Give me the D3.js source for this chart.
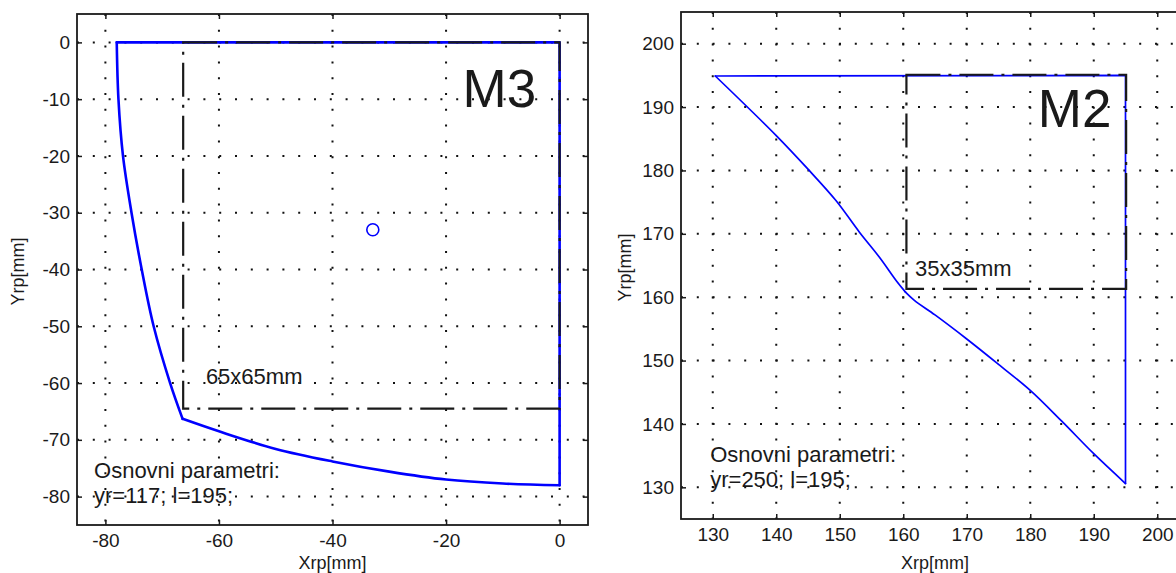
<!DOCTYPE html>
<html>
<head>
<meta charset="utf-8">
<script src="https://cdn.jsdelivr.net/npm/d3@7"></script>
<style>
  html, body { margin: 0; padding: 0; background: #fff; }
  svg { display: block; font-family: "Liberation Sans", Arial, sans-serif; }
</style>
</head>
<body>
<svg id="chart" width="1176" height="573"></svg>
<script>
// ---------- DATA ----------
// Panel M3 (left)
const m3Domain = [-85, 5];
const m3XTicks = [-80, -60, -40, -20, 0];
const m3YTicks = [0, -10, -20, -30, -40, -50, -60, -70, -80];
const m3Edges = [[-78.0, 0], [0, 0], [0, -78.0]];
const m3BottomCurve = [[0, -78.0], [-10, -77.7], [-20, -77.0], [-30, -75.6], [-40, -73.8],
  [-50, -71.6], [-60, -68.5], [-66.4, -66.3]];
const m3LeftCurve = [[-66.4, -66.3], [-68.6, -60], [-71.5, -50], [-73.6, -40], [-75.4, -30],
  [-76.9, -20], [-77.7, -10], [-78.0, 0]];
const m3Rect = [-66.3, -64.5, 0, 0];   // x0, y0, x1, y1
const m3Marker = [-32.9, -33.0];
const m3Texts = [
  { t: "M3", x: -17.1, y: -11.3, big: true },
  { t: "65x65mm", x: -62.3, y: -60.2 },
  { t: "Osnovni parametri:", x: -82.0, y: -76.7 },
  { t: "yr=117; l=195;", x: -82.0, y: -81.1 }
];

// Panel M2 (right)
const m2Domain = [125, 205];
const m2XTicks = [130, 140, 150, 160, 170, 180, 190, 200];
const m2YTicks = [130, 140, 150, 160, 170, 180, 190, 200];
const m2Edges = [[130.4, 194.9], [195, 195], [195, 130.6]];
const m2LowerCurve = [[195, 130.6], [190, 135.3], [185, 140.4], [180, 145.3], [175, 149.4],
  [170, 153.4], [165, 157.2], [161.75, 159.5], [160.35, 160.8]];
const m2UpperCurve = [[160.35, 160.8], [158.9, 162.6], [156.25, 166.3], [153.1, 170.25],
  [149.4, 175.25], [145, 180.2], [140, 185.5], [130.4, 194.9]];
const m2Rect = [160.5, 161.3, 195.1, 195.1];
const m2Texts = [
  { t: "M2", x: 181.2, y: 186.9, big: true },
  { t: "35x35mm", x: 161.85, y: 163.3 },
  { t: "Osnovni parametri:", x: 129.6, y: 134.0 },
  { t: "yr=250; l=195;", x: 129.6, y: 130.1 }
];

const axisLabelX = "Xrp[mm]";
const axisLabelY = "Yrp[mm]";

// ---------- DRAW ----------
const svg = d3.select("#chart");

function panel(cfg) {
  const x = d3.scaleLinear().domain(cfg.domainX).range([cfg.left, cfg.right]);
  const y = d3.scaleLinear().domain(cfg.domainY).range([cfg.bottom, cfg.top]);
  const g = svg.append("g");

  // grid
  const grid = g.append("g").attr("stroke", "#111").attr("stroke-width", 2)
    .attr("stroke-dasharray", "2,13.8");
  grid.selectAll("line.vx").data(cfg.xTicks).join("line")
    .attr("x1", d => x(d)).attr("x2", d => x(d))
    .attr("y1", cfg.top).attr("y2", cfg.bottom);
  grid.selectAll("line.hy").data(cfg.yTicks).join("line")
    .attr("y1", d => y(d)).attr("y2", d => y(d))
    .attr("x1", cfg.left).attr("x2", cfg.right);

  // blue outline: straight edges + smooth curves
  const straight = d3.line().x(d => x(d[0])).y(d => y(d[1]));
  const smooth = d3.line().x(d => x(d[0])).y(d => y(d[1])).curve(d3.curveCatmullRom.alpha(0.5));
  const blue = g.append("g").attr("fill", "none").attr("stroke", "#0000ff")
    .attr("stroke-width", cfg.blueW).attr("stroke-linejoin", "round").attr("stroke-linecap", "round");
  blue.append("path").datum(cfg.edges).attr("d", straight);
  cfg.curves.forEach(c => blue.append("path").datum(c).attr("d", smooth));

  // dash-dot rectangle
  const r = cfg.rect;
  g.append("rect")
    .attr("x", x(r[0])).attr("y", y(r[3]))
    .attr("width", x(r[2]) - x(r[0])).attr("height", y(r[1]) - y(r[3]))
    .attr("fill", "none").attr("stroke", "#1a1a1a").attr("stroke-width", 2.2)
    .attr("stroke-dasharray", "34,8,3,8");

  // marker
  if (cfg.marker) {
    g.append("circle").attr("cx", x(cfg.marker[0])).attr("cy", y(cfg.marker[1]))
      .attr("r", 6).attr("fill", "none").attr("stroke", "#0000ff").attr("stroke-width", 1.6);
  }

  // texts
  g.selectAll("text.ann").data(cfg.texts).join("text")
    .attr("x", d => x(d.x)).attr("y", d => y(d.y))
    .attr("font-size", d => d.big ? 53 : 22)
    .attr("fill", "#1a1a1a")
    .text(d => d.t);

  // axes (inward ticks)
  const fmt = d => String(d);
  const styleAxis = sel => {
    sel.attr("font-size", 19).attr("font-family", "Liberation Sans, Arial, sans-serif");
    sel.select(".domain").remove();
    sel.selectAll(".tick line").attr("stroke", "#1a1a1a").attr("stroke-width", 1.5);
    sel.selectAll(".tick text").attr("fill", "#1a1a1a").attr("font-size", 19);
  };
  g.append("g").attr("transform", `translate(0,${cfg.bottom})`)
    .call(d3.axisBottom(x).tickValues(cfg.xTicks).tickFormat(fmt).tickSize(-5).tickSizeOuter(0).tickPadding(9))
    .call(styleAxis);
  g.append("g").attr("transform", `translate(0,${cfg.top})`)
    .call(d3.axisTop(x).tickValues(cfg.xTicks).tickSize(-5).tickSizeOuter(0).tickFormat(""))
    .call(styleAxis);
  g.append("g").attr("transform", `translate(${cfg.left},0)`)
    .call(d3.axisLeft(y).tickValues(cfg.yTicks).tickFormat(fmt).tickSize(-5).tickSizeOuter(0).tickPadding(7))
    .call(styleAxis);
  g.append("g").attr("transform", `translate(${cfg.right},0)`)
    .call(d3.axisRight(y).tickValues(cfg.yTicks).tickSize(-5).tickSizeOuter(0).tickFormat(""))
    .call(styleAxis);

  // frame
  g.append("rect").attr("x", cfg.left).attr("y", cfg.top)
    .attr("width", cfg.right - cfg.left).attr("height", cfg.bottom - cfg.top)
    .attr("fill", "none").attr("stroke", "#1a1a1a").attr("stroke-width", 1.8);

  // axis labels
  g.append("text").attr("x", (cfg.left + cfg.right) / 2).attr("y", 569)
    .attr("text-anchor", "middle").attr("font-size", 18).attr("fill", "#1a1a1a")
    .text(axisLabelX);
  g.append("text")
    .attr("transform", `translate(${cfg.yLabelX},${(cfg.top + cfg.bottom) / 2 + 2}) rotate(-90)`)
    .attr("text-anchor", "middle").attr("dominant-baseline", "central")
    .attr("font-size", 18).attr("fill", "#1a1a1a")
    .text(axisLabelY);
}

panel({
  domainX: m3Domain, domainY: m3Domain,
  left: 77, right: 588, top: 14, bottom: 525,
  xTicks: m3XTicks, yTicks: m3YTicks,
  edges: m3Edges, curves: [m3BottomCurve, m3LeftCurve],
  rect: m3Rect, marker: m3Marker, texts: m3Texts,
  blueW: 2.6, yLabelX: 18
});
panel({
  domainX: m2Domain, domainY: m2Domain,
  left: 681, right: 1189, top: 12, bottom: 519,
  xTicks: m2XTicks, yTicks: m2YTicks,
  edges: m2Edges, curves: [m2LowerCurve, m2UpperCurve],
  rect: m2Rect, marker: null, texts: m2Texts,
  blueW: 1.7, yLabelX: 625
});
</script>
</body>
</html>
